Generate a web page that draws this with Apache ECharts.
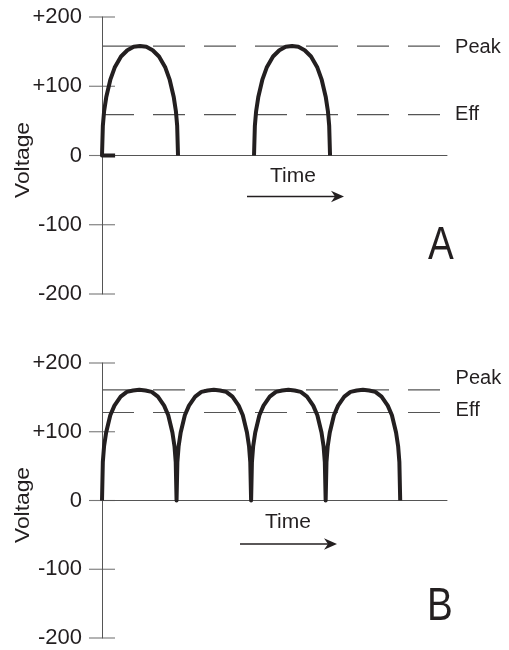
<!DOCTYPE html>
<html>
<head>
<meta charset="utf-8">
<script src="https://cdn.jsdelivr.net/npm/echarts@6/dist/echarts.min.js"></script>
<style>
html,body{margin:0;padding:0;background:#fff;}
#chart{width:509px;height:650px;}
</style>
</head>
<body>
<div id="chart"></div>
<script>
// ---- data (phase in degrees, voltage in volts) ----
const yTickValues = [-200, -100, 0, 100, 200];
const yTickLabels = ['-200', '-100', '0', '+100', '+200'];

const archPhase = [0, 2, 5, 10, 20, 30, 45, 60, 75, 90, 105, 120, 135, 150, 160, 170, 175, 178, 180];
const archVoltsA = [0, 43, 64, 84, 110, 127, 143, 152, 157, 158, 157, 152, 143, 127, 110, 84, 64, 43, 0];
const archVoltsB = [0, 56, 79, 99, 124, 138, 151, 158, 160, 161, 160, 158, 151, 138, 124, 99, 79, 56, 0];
const archStartsA = [0, 360];
const archStartsB = [0, 180, 360, 540];
const stubA = [[31, 0], [0, 0]];

const timeMaxA = 817, timeMaxB = 833;
const peakA = 158, effA = 59;
const peakB = 161, effB = 128;
const refEndA = 803, refEndB = 820;
const refLabels = ['Peak', 'Eff'];
const panelLetters = ['A', 'B'];
const axisTitle = 'Voltage';
const timeTitle = 'Time';

// ---- build ----
function buildArches(starts, volts, prefix) {
  const out = prefix ? prefix.slice() : [];
  starts.forEach((s, i) => {
    if (i > 0 && starts[i] - starts[i - 1] > 180) out.push([null, null]);
    archPhase.forEach((p, j) => {
      if (i > 0 && j === 0 && starts[i] - starts[i - 1] === 180) return;
      out.push([s + p, volts[j]]);
    });
  });
  return out;
}
const curveA = buildArches(archStartsA, archVoltsA, stubA);
const curveB = buildArches(archStartsB, archVoltsB, null);
const tickMarks = yTickValues.map(v => [0, v]);

const INK = '#231f20';
const AXIS = '#555555';
const FONT = '"Liberation Sans", Arial, Helvetica, sans-serif';

function mainY(grid) {
  return {
    gridIndex: grid, type: 'value', position: 'left', min: -200, max: 200, interval: 100,
    axisLine: { show: true, onZero: false, lineStyle: { color: AXIS, width: 1 } },
    axisTick: { show: false },
    axisLabel: {
      margin: 20, fontSize: 22, color: INK, fontFamily: FONT,
      formatter: v => yTickLabels[yTickValues.indexOf(v)]
    },
    splitLine: { show: false }
  };
}
function xAx(grid, max) {
  return {
    gridIndex: grid, type: 'value', min: 0, max: max,
    axisLine: { show: true, onZero: true, lineStyle: { color: AXIS, width: 1 } },
    axisTick: { show: false }, axisLabel: { show: false }, splitLine: { show: false }
  };
}
function ticks(gi) {
  return {
    type: 'scatter', xAxisIndex: gi, yAxisIndex: gi, data: tickMarks,
    symbol: 'rect', symbolSize: [26, 1.1], clip: false, silent: true,
    itemStyle: { color: AXIS }, z: 2
  };
}
function refLine(gi, val, end, label, dy) {
  return {
    type: 'line', xAxisIndex: gi, yAxisIndex: gi,
    data: [[0, val], [end, val]],
    symbol: 'none', silent: true,
    lineStyle: { color: AXIS, width: 1.2, type: [32, 19] },
    endLabel: {
      show: true, formatter: label, distance: 14, offset: [0, dy],
      fontSize: 20, color: INK, fontFamily: FONT
    },
    z: 1
  };
}
function curve(gi, data) {
  return {
    type: 'line', xAxisIndex: gi, yAxisIndex: gi, data: data,
    symbol: 'none', connectNulls: false, silent: true,
    lineStyle: { color: INK, width: 4, join: 'round' },
    z: 3
  };
}
function arrow(x0, x1, y) {
  return [
    { type: 'line', shape: { x1: x0, y1: y, x2: x1 - 4, y2: y }, style: { stroke: INK, lineWidth: 1.5 } },
    { type: 'polygon', shape: { points: [[x1, y], [x1 - 13, y - 5.8], [x1 - 9, y], [x1 - 13, y + 5.8]] }, style: { fill: INK } }
  ];
}
function vLabel(x, y) {
  return { type: 'text', x: x, y: y, rotation: Math.PI / 2, scaleX: 1.17, scaleY: 1,
    style: { text: axisTitle, fontSize: 19.5, fill: INK, align: 'center', verticalAlign: 'middle', fontFamily: FONT } };
}
function letter(x, y, t) {
  return { type: 'text', x: x, y: y, scaleX: 0.84, scaleY: 1,
    style: { text: t, fontSize: 46, fill: INK, align: 'center', verticalAlign: 'middle', fontFamily: FONT } };
}

const chart = echarts.init(document.getElementById('chart'), null, { renderer: 'canvas' });
chart.setOption({
  animation: false,
  backgroundColor: '#ffffff',
  grid: [
    { left: 102, top: 17, width: 345, height: 277, outerBoundsMode: 'none', containLabel: false },
    { left: 102, top: 363, width: 345, height: 275, outerBoundsMode: 'none', containLabel: false }
  ],
  xAxis: [xAx(0, timeMaxA), xAx(1, timeMaxB)],
  yAxis: [mainY(0), mainY(1)],
  series: [
    ticks(0),
    ticks(1),
    refLine(0, peakA, refEndA, refLabels[0], 1),
    refLine(0, effA, refEndA, refLabels[1], 0),
    refLine(1, peakB, refEndB, refLabels[0], -11),
    refLine(1, effB, refEndB, refLabels[1], -2),
    curve(0, curveA),
    curve(1, curveB)
  ],
  graphic: [
    vLabel(24, 160),
    vLabel(24, 505),
    { type: 'text', left: 270, top: 166, style: { text: timeTitle, fontSize: 21, fill: INK, fontFamily: FONT } },
    ...arrow(247, 344, 196.5),
    { type: 'text', left: 265, top: 512, style: { text: timeTitle, fontSize: 21, fill: INK, fontFamily: FONT } },
    ...arrow(240, 337, 544),
    letter(441, 246, panelLetters[0]),
    letter(440, 607, panelLetters[1])
  ]
});
</script>
</body>
</html>
